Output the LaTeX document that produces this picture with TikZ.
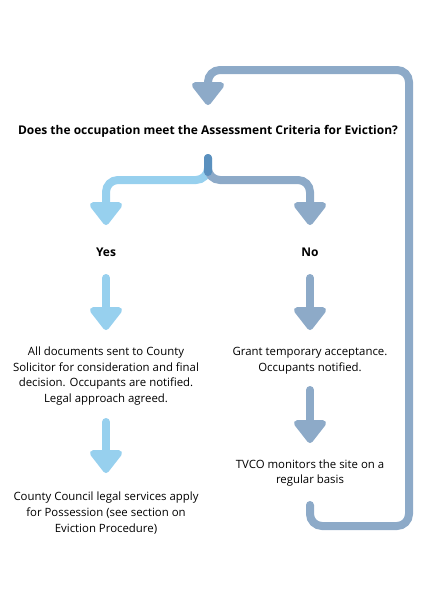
\documentclass[tikz,border=0pt]{standalone}
\usepackage{fontspec}
\setmainfont{Open Sans}
\usetikzlibrary{arrows.meta}
\definecolor{lightblue}{HTML}{97D0EE}
\definecolor{greyblue}{HTML}{8DAAC8}
\definecolor{stemblue}{HTML}{5A90BE}
\tikzset{
  txt/.style={align=center, font=\fontsize{11.4}{15.6}\selectfont, inner sep=0pt},
  head/.style={font=\bfseries\fontsize{12}{14}\selectfont, inner sep=0pt},
  flow/.style={line width=8pt, line cap=round, rounded corners=12pt,
    -{Triangle[width=37pt,length=25pt,round]}},
  yesflow/.style={flow, draw=lightblue},
  noflow/.style={flow, draw=greyblue},
}
\begin{document}
\begin{tikzpicture}[x=1pt,y=-1pt]
\useasboundingbox (0,0) rectangle (424,600);
% nodes
\node[head] (q) at (208,131) {Does the occupation meet the Assessment Criteria for Eviction?};
\node[head] (yes) at (106,252) {Yes};
\node[head] (no) at (310,252) {No};
\node[txt] (l1) at (106,376) {All documents sent to County\\Solicitor for consideration and final\\decision. Occupants are notified.\\Legal approach agreed.};
\node[txt] (l2) at (106,513) {County Council legal services apply\\for Possession (see section on\\Eviction Procedure)};
\node[txt] (r1) at (310,361) {Grant temporary acceptance.\\Occupants notified.};
\node[txt] (r2) at (310,473) {TVCO monitors the site on a\\regular basis};
\coordinate (stemtop) at (208,158);
\coordinate (split) at (208,180);
\coordinate (qtop) at (208,105);
\coordinate (loopstart) at (310,505);
% split
\draw[yesflow] (stemtop) -- (split) -- (106,180) -- (106,225);
\draw[noflow] (stemtop) -- (split) -- (310,180) -- (310,225);
\draw[line width=8pt, line cap=round, stemblue] (stemtop) -- (208,172);
% vertical arrows
\draw[yesflow] (106,278) -- (106,330);
\draw[yesflow] (106,422) -- (106,473);
\draw[noflow] (310,278) -- (310,330);
\draw[noflow] (310,390) -- (310,443);
% loop back
\draw[noflow] (loopstart) -- (310,526) -- (409,526) -- (409,70) -- (208,70) -- (qtop);
\end{tikzpicture}
\end{document}
